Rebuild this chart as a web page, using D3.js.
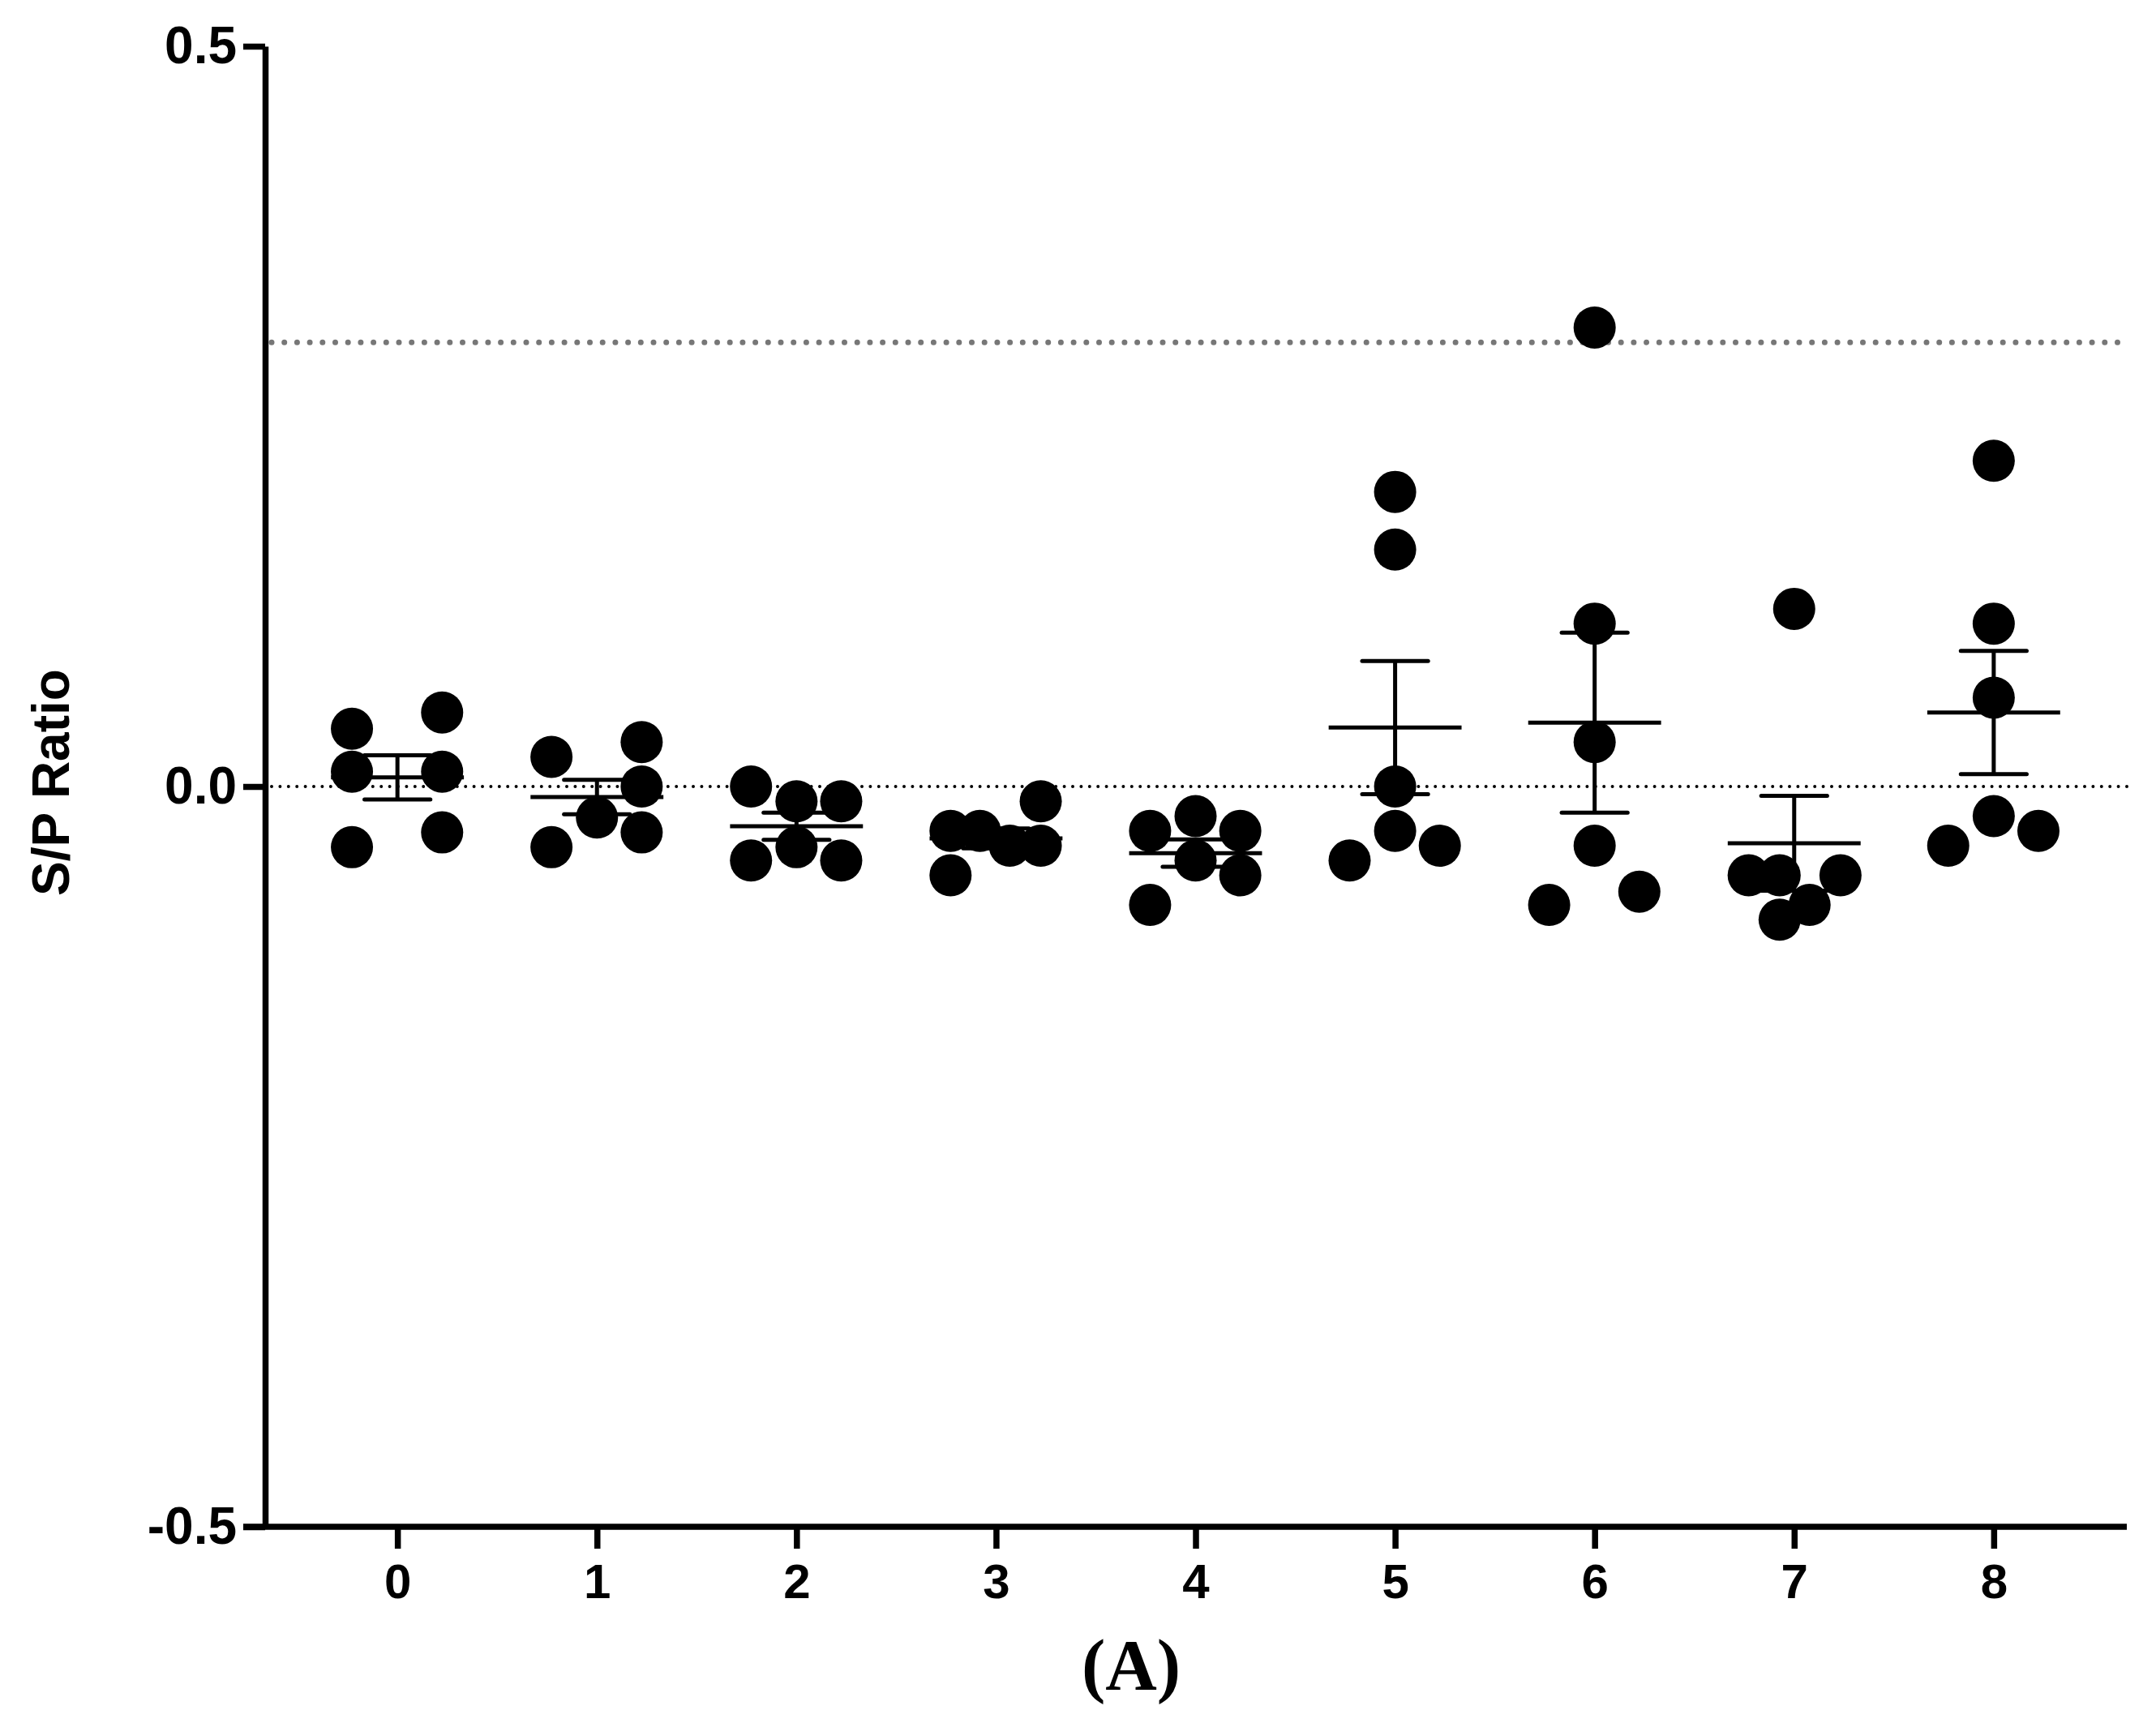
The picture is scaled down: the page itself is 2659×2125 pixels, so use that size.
<!DOCTYPE html>
<html>
<head>
<meta charset="utf-8">
<script src="https://cdn.jsdelivr.net/npm/d3@7"></script>
<style>
  body { margin: 0; background: #fff; }
  svg { display: block; }
</style>
</head>
<body>
<div id="chart"></div>
<script>
// groups on the x axis
const groups = [0, 1, 2, 3, 4, 5, 6, 7, 8];

// S/P ratio of each animal, per group
const values = [
  [0.039, 0.010, -0.041, 0.050, 0.010, -0.031],
  [0.020, -0.041, -0.021, 0.030, 0.000, -0.031],
  [0.000, -0.050, -0.010, -0.041, -0.010, -0.050],
  [-0.030, -0.060, -0.030, -0.040, -0.010, -0.040],
  [-0.030, -0.080, -0.020, -0.050, -0.030, -0.060],
  [0.199, 0.160, 0.000, -0.030, -0.050, -0.040],
  [0.310, 0.110, 0.030, -0.040, -0.080, -0.071],
  [0.120, -0.060, -0.060, -0.060, -0.080, -0.090],
  [0.220, 0.110, 0.060, -0.020, -0.040, -0.030]
];

// horizontal scatter offset of each point (in group units)
const jitter = [
  [-0.228, -0.228, -0.228, 0.224, 0.224, 0.224],
  [-0.228, -0.228, 0, 0.224, 0.224, 0.224],
  [-0.228, -0.228, 0, 0, 0.224, 0.224],
  [-0.228, -0.228, -0.081, 0.069, 0.224, 0.224],
  [-0.228, -0.228, 0, 0, 0.224, 0.224],
  [0, 0, 0, 0, -0.228, 0.224],
  [0, 0, 0, 0, -0.228, 0.224],
  [0, -0.228, -0.073, 0.232, 0.077, -0.073],
  [0, 0, 0, 0, -0.228, 0.224]
];

const yTicks = [-0.5, 0.0, 0.5];
const cutoff = 0.3;

const width = 2659;
const height = 2125;

const svg = d3.select('#chart')
  .append('svg')
  .attr('width', width)
  .attr('height', height);

const x = d3.scaleLinear()
  .domain([-0.663, 8.667])
  .range([327, 2623]);

const y = d3.scaleLinear()
  .domain([-0.5, 0.5])
  .range([1883, 57]);

// reference lines (zero and cutoff)
svg.append('line')
  .attr('x1', x(-0.663) + 8).attr('x2', x(8.667))
  .attr('y1', y(0)).attr('y2', y(0))
  .attr('stroke', '#000')
  .attr('stroke-width', 4)
  .attr('stroke-linecap', 'round')
  .attr('stroke-dasharray', '0 10.4');

svg.append('line')
  .attr('x1', x(-0.663) + 8).attr('x2', x(8.667) - 4)
  .attr('y1', y(cutoff)).attr('y2', y(cutoff))
  .attr('stroke', '#777')
  .attr('stroke-width', 7)
  .attr('stroke-linecap', 'round')
  .attr('stroke-dasharray', '0 15.7');

// mean +/- SEM
const stats = groups.map((g, i) => {
  const v = values[i];
  const m = d3.mean(v);
  const sem = d3.deviation(v) / Math.sqrt(v.length);
  return {g, m, lo: m - sem, hi: m + sem};
});

const bars = svg.append('g')
  .attr('stroke', '#000')
  .attr('stroke-width', 5);

bars.selectAll('.stem')
  .data(stats)
  .join('line')
    .attr('class', 'stem')
    .attr('x1', d => x(d.g)).attr('x2', d => x(d.g))
    .attr('y1', d => y(d.hi)).attr('y2', d => y(d.lo));

bars.selectAll('.mean')
  .data(stats)
  .join('line')
    .attr('class', 'mean')
    .attr('x1', d => x(d.g - 0.333)).attr('x2', d => x(d.g + 0.333))
    .attr('y1', d => y(d.m)).attr('y2', d => y(d.m));

bars.selectAll('.cap')
  .data(stats.flatMap(d => [{g: d.g, v: d.hi}, {g: d.g, v: d.lo}]))
  .join('line')
    .attr('class', 'cap')
    .attr('stroke-linecap', 'round')
    .attr('x1', d => x(d.g - 0.165)).attr('x2', d => x(d.g + 0.165))
    .attr('y1', d => y(d.v)).attr('y2', d => y(d.v));

// points
const pts = groups.flatMap((g, i) => values[i].map((v, j) => ({g, v, dx: jitter[i][j]})));

svg.append('g')
  .attr('fill', '#000')
  .selectAll('circle')
  .data(pts)
  .join('circle')
    .attr('cx', d => x(d.g + d.dx))
    .attr('cy', d => y(d.v))
    .attr('r', 26);

// axes
function yAxis(g) {
  g.attr('transform', `translate(${x(-0.663)},0)`)
    .call(d3.axisLeft(y).tickValues(yTicks).tickFormat(d => d.toFixed(1)).tickSize(27).tickSizeOuter(0).tickPadding(8));
}

function xAxis(g) {
  g.attr('transform', `translate(0,${y(-0.5)})`)
    .call(d3.axisBottom(x).tickValues(groups).tickFormat(d => String(d)).tickSize(27).tickSizeOuter(0).tickPadding(18));
}

const gy = svg.append('g').call(yAxis);
const gx = svg.append('g').call(xAxis);

[gy, gx].forEach(g => {
  g.selectAll('path, line').attr('stroke', '#000').attr('stroke-width', 7.5);
  g.selectAll('text')
    .attr('fill', '#000')
    .attr('font-family', '"Liberation Sans", Arial, sans-serif')
    .attr('font-weight', 'bold');
});
gy.selectAll('text').attr('font-size', 64);
gx.selectAll('text').attr('font-size', 60);
gx.select('.domain').attr('d', `M${x(-0.663) - 27},0H${x(8.667)}`);

// axis title
svg.append('text')
  .attr('transform', `translate(85,965) rotate(-90)`)
  .attr('text-anchor', 'middle')
  .attr('font-family', '"Liberation Sans", Arial, sans-serif')
  .attr('font-weight', 'bold')
  .attr('font-size', 64)
  .text('S/P Ratio');

// panel label
svg.append('text')
  .attr('x', 1395)
  .attr('y', 2083)
  .attr('text-anchor', 'middle')
  .attr('font-family', '"Liberation Serif", "Times New Roman", serif')
  .attr('font-weight', 'bold')
  .attr('font-size', 88)
  .text('(A)');
</script>
</body>
</html>
